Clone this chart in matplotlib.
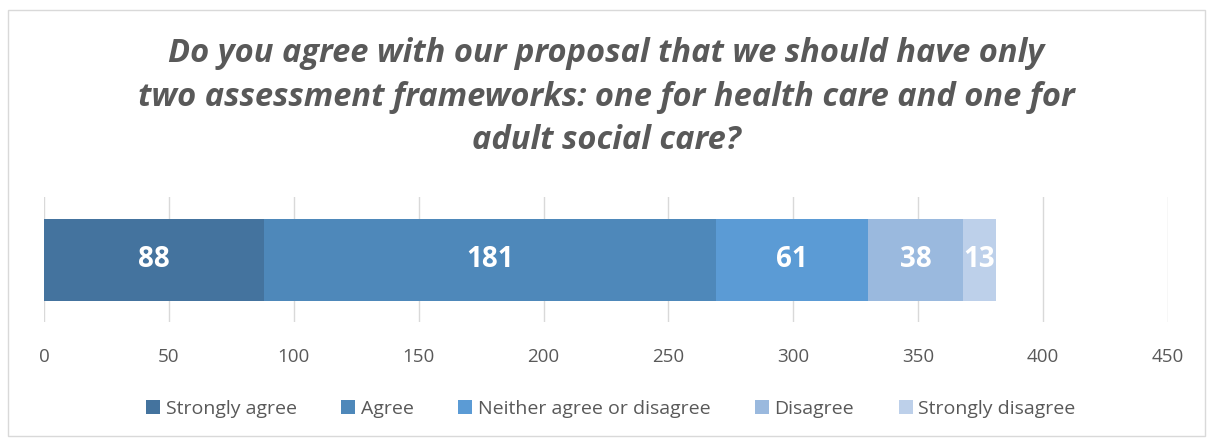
import matplotlib
matplotlib.use('Agg')
from matplotlib import pyplot as plt
from matplotlib.patches import Rectangle

# data
categories = ['Strongly agree', 'Agree', 'Neither agree or disagree', 'Disagree', 'Strongly disagree']
values = [88, 181, 61, 38, 13]
colours = ['#44739E', '#4E88BA', '#5B9BD5', '#9AB9DE', '#BDD0EA']
xticks = [0, 50, 100, 150, 200, 250, 300, 350, 400, 450]
title = ('Do you agree with our proposal that we should have only\n'
         'two assessment frameworks: one for health care and one for\n'
         'adult social care?')

plt.rcParams['font.family'] = ['Open Sans', 'DejaVu Sans']
grey = '#595959'

fig = plt.figure(figsize=(12.12, 4.41), dpi=100)
fig.patches.append(Rectangle((8/1212, 5/441), 1197/1212, 426/441, transform=fig.transFigure,
                             fill=False, edgecolor='#D9D9D9', linewidth=1))
ax = fig.add_axes([44/1212, 119/441, 1124/1212, 125/441])

left = 0
for cat, val, col in zip(categories, values, colours):
    ax.barh(0, val, left=left, height=0.656, color=col, label=cat, zorder=3)
    ax.text(left + val/2, 0, str(val), ha='center', va='center', color='white',
            fontsize=20, fontweight='bold', zorder=4)
    left += val

ax.set_xlim(0, 450)
ax.set_ylim(-0.5, 0.5)
ax.set_xticks(xticks)
ax.set_yticks([])
ax.tick_params(axis='x', length=0, labelsize=13.5, labelcolor=grey, pad=19)
for s in ax.spines.values():
    s.set_visible(False)
ax.grid(axis='x', color='#D9D9D9', linewidth=1, zorder=0)

fig.text(0.5, 0.78, title, ha='center', va='center', fontsize=23.5, fontweight='bold',
         fontstyle='italic', color=grey, linespacing=1.42)

leg = ax.legend(loc='center', bbox_to_anchor=(0.504, 0.073), bbox_transform=fig.transFigure,
                ncol=5, frameon=False, fontsize=14, handlelength=0.7, handleheight=0.7,
                handletextpad=0.3, columnspacing=2.3)
for t in leg.get_texts():
    t.set_color(grey)

fig.savefig('out.png', dpi=100)
